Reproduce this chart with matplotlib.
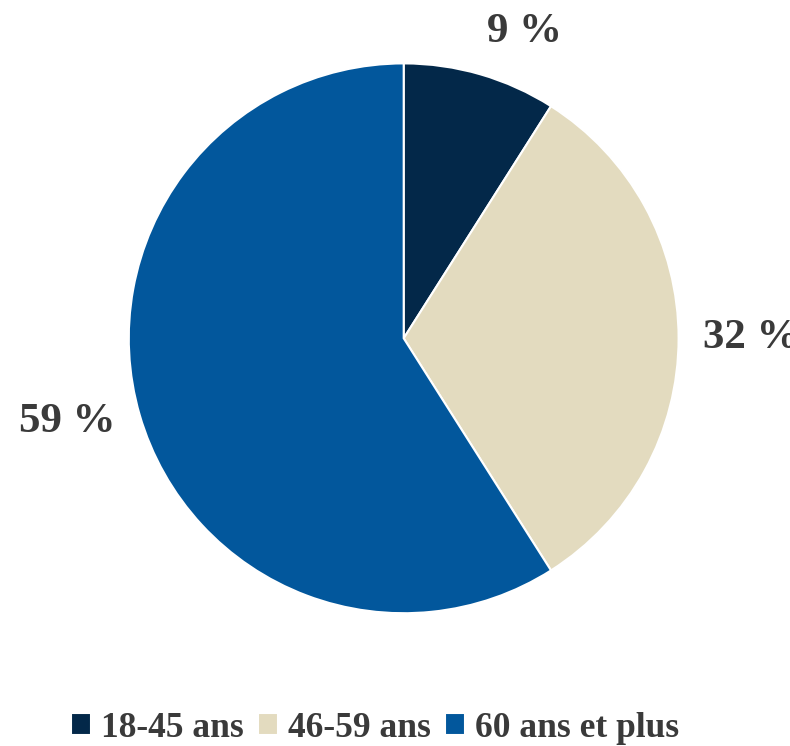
import matplotlib
matplotlib.use("Agg")
import matplotlib.pyplot as plt

categories = ["18-45 ans", "46-59 ans", "60 ans et plus"]
values = [9, 32, 59]
colors = ["#032849", "#E3DBBF", "#02579C"]

plt.rcParams["font.family"] = ["Liberation Serif", "DejaVu Serif"]
text_color = "#3a3a3a"

fig = plt.figure(figsize=(7.9, 7.46), dpi=100)
ax = fig.add_axes([0.163, 0.178, 0.696, 0.737])

wedges, texts = ax.pie(
    values,
    labels=[f"{v} %" for v in values],
    colors=colors,
    startangle=90,
    counterclock=False,
    labeldistance=1.09,
    wedgeprops=dict(edgecolor="white", linewidth=1.5),
    textprops=dict(fontsize=31, fontweight="bold", color=text_color),
)
texts[0].set_va("bottom")
ax.set_xlim(-1, 1)
ax.set_ylim(-1, 1)
ax.set_aspect("equal")

fig.legend(
    wedges, categories,
    loc="center", bbox_to_anchor=(0.475, 0.024),
    ncol=3, frameon=False,
    handlelength=0.55, handleheight=0.55, handletextpad=0.3, columnspacing=0.4,
    prop=dict(size=25.5, weight="bold"),
    labelcolor=text_color,
)

fig.savefig("out.png", dpi=100)
